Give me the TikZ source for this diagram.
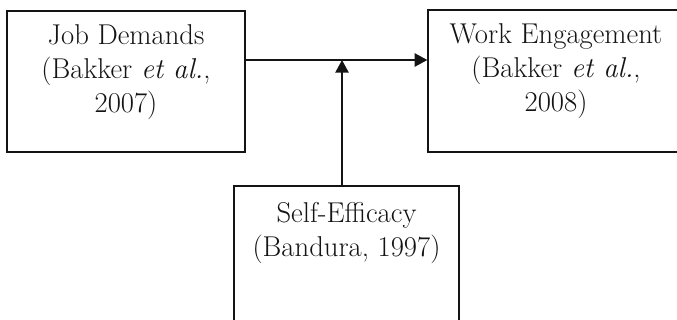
\documentclass[tikz,border=0pt]{standalone}
\usetikzlibrary{arrows.meta,positioning,calc}
\definecolor{FwInk}{RGB}{20,20,20}
\tikzset{
  fw/box/.style={
    draw=FwInk,
    line width=1pt,
    fill=white,
    inner sep=0pt
  },
  fw/text/.style={
    anchor=north,
    align=center,
    text=FwInk,
    inner sep=0pt,
    font=\fontsize{21.5}{25.5}\selectfont
  },
  fw/arrow/.style={-{Triangle[length=9.5pt,width=10pt]}, line width=1.1pt, draw=FwInk}
}
\begin{document}
\begin{tikzpicture}[x=0.75pt,y=-0.75pt]
  \useasboundingbox (0,0) rectangle (677,320);
  \clip (0,0) rectangle (677,320);
  \node[fw/box,minimum width=178.5pt,minimum height=105.75pt] (jd) at (126,81.5) {};
  \node[fw/box,minimum width=192pt,minimum height=106.5pt] (we) at (556,81) {};
  \node[fw/box,minimum width=168.75pt,minimum height=105.75pt] (se) at (346.5,256.5) {};
  \node[fw/text] (jdt) at ($(jd.north)+(0,14)$) {Job Demands\\(Bakker \textit{et al.},\\2007)};
  \node[fw/text] (wet) at ($(we.north)+(0,14)$) {Work Engagement\\(Bakker \textit{et al.},\\2008)};
  \node[fw/text] (set) at ($(se.north)+(0,17)$) {Self-Efficacy\\(Bandura, 1997)};
  \coordinate (mid) at (342,60);
  \draw[fw/arrow] (jd.east |- mid) -- (we.west |- mid);
  \draw[fw/arrow] (se.north -| mid) -- (mid);
\end{tikzpicture}
\end{document}
